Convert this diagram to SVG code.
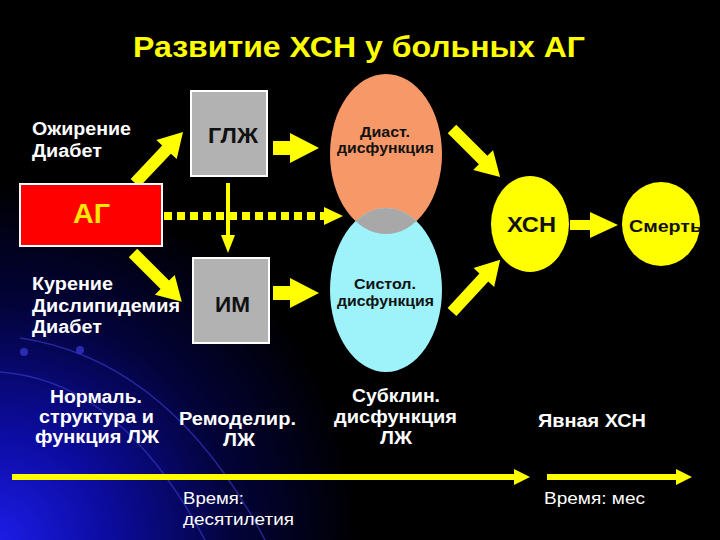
<svg xmlns="http://www.w3.org/2000/svg" width="720" height="540" viewBox="0 0 720 540">
<defs>
<radialGradient id="bg" gradientUnits="userSpaceOnUse" cx="0" cy="540" r="360">
<stop offset="0" stop-color="#1c1ce6"/>
<stop offset="0.3" stop-color="#0c0ca0"/>
<stop offset="0.65" stop-color="#03033a"/>
<stop offset="1" stop-color="#000000"/>
</radialGradient>
<clipPath id="cyanClip"><ellipse cx="386" cy="290" rx="56" ry="82"/></clipPath>
<style>
.t{font-family:"Liberation Sans",Arial,sans-serif;font-weight:bold}
.w{fill:#FFFFFF}
.k{fill:#111111}
.y{fill:#FFFF00}
.box{fill:#B2B2B2;stroke:#FFFFFF;stroke-width:2}
.ya{fill:#FFFF00}
</style>
</defs>
<rect width="720" height="540" fill="#000000"/>
<rect width="720" height="540" fill="url(#bg)"/>
<g fill="none" stroke="#3c3cd0" stroke-width="1.5" opacity="0.6">
<path d="M20,338 Q170,360 265,540"/>
<path d="M0,372 Q120,380 205,540"/>
</g>
<circle cx="24" cy="352" r="4" fill="#3a3ad8" opacity="0.7"/>
<circle cx="80" cy="350" r="4" fill="#3a3ad8" opacity="0.7"/>

<text class="t y" x="133" y="57" font-size="29" textLength="452" lengthAdjust="spacingAndGlyphs">Развитие ХСН у больных АГ</text>

<g id="connectors">
<!-- AG -> GLZh -->
<path class="ya" transform="translate(135,183) rotate(-46.7)" d="M0,-6 H46 V-14 L70,0 L46,14 V6 H0 Z"/>
<!-- AG -> IM -->
<path class="ya" transform="translate(133,253) rotate(45)" d="M0,-6 H45 V-14 L69,0 L45,14 V6 H0 Z"/>
<!-- GLZh -> Diast -->
<path class="ya" d="M273,141 H290 V133 L319,148 L290,163 V155 H273 Z"/>
<!-- IM -> Systol -->
<path class="ya" d="M273,286 H290 V278 L319,293 L290,308 V300 H273 Z"/>
<!-- Diast -> HSN -->
<path class="ya" transform="translate(452,129) rotate(45)" d="M0,-6 H44 V-14 L68,0 L44,14 V6 H0 Z"/>
<!-- Systol -> HSN -->
<path class="ya" transform="translate(452,312) rotate(-47.3)" d="M0,-6 H47 V-14 L71,0 L47,14 V6 H0 Z"/>
<!-- HSN -> Death -->
<path class="ya" d="M570,220 H590 V212 L618,225 L590,238 V230 H570 Z"/>
<!-- GLZh -> IM thin -->
<line x1="228" y1="183" x2="228" y2="238" stroke="#FFFF00" stroke-width="4"/>
<polygon class="ya" points="221,235 235,235 228,253"/>
<!-- AG dashed -->
<line x1="164" y1="216" x2="324" y2="216" stroke="#FFFF00" stroke-width="8" stroke-dasharray="8 5"/>
<polygon class="ya" points="324,207 324,225 343,216"/>
<!-- timeline -->
<line x1="12" y1="477" x2="517" y2="477" stroke="#FFFF00" stroke-width="6"/>
<polygon class="ya" points="514,469 530,477 514,485"/>
<line x1="547" y1="477" x2="679" y2="477" stroke="#FFFF00" stroke-width="6"/>
<polygon class="ya" points="676,469 692,477 676,485"/>
</g>

<g id="risk1">
<text class="t w" x="32" y="135" font-size="18" textLength="99" lengthAdjust="spacingAndGlyphs">Ожирение</text>
<text class="t w" x="32" y="157" font-size="18" textLength="70" lengthAdjust="spacingAndGlyphs">Диабет</text>
</g>
<g id="risk2">
<text class="t w" x="32" y="290" font-size="18" textLength="81" lengthAdjust="spacingAndGlyphs">Курение</text>
<text class="t w" x="32" y="312" font-size="18" textLength="148" lengthAdjust="spacingAndGlyphs">Дислипидемия</text>
<text class="t w" x="32" y="333" font-size="18" textLength="70" lengthAdjust="spacingAndGlyphs">Диабет</text>
</g>

<g id="ag">
<rect x="20" y="184" width="142" height="62" fill="#FF0000" stroke="#FFFFFF" stroke-width="2"/>
<text class="t" fill="#FFE600" x="73" y="223" font-size="27" textLength="37" lengthAdjust="spacingAndGlyphs">АГ</text>
</g>
<g id="glzh">
<rect class="box" x="191" y="91" width="76" height="85"/>
<text class="t k" x="208" y="143" font-size="22" textLength="50" lengthAdjust="spacingAndGlyphs">ГЛЖ</text>
</g>
<g id="im">
<rect class="box" x="193" y="258" width="76" height="85"/>
<text class="t k" x="215" y="312" font-size="22" textLength="35" lengthAdjust="spacingAndGlyphs">ИМ</text>
</g>

<g id="dysfunction">
<ellipse cx="386" cy="154" rx="56" ry="80" fill="#F79868"/>
<ellipse cx="386" cy="290" rx="56" ry="82" fill="#9EF2FA"/>
<ellipse cx="386" cy="154" rx="56" ry="80" fill="#A8A8A8" clip-path="url(#cyanClip)"/>
<text class="t k" x="360" y="137" font-size="15" textLength="50" lengthAdjust="spacingAndGlyphs">Диаст.</text>
<text class="t k" x="337" y="153" font-size="15" textLength="97" lengthAdjust="spacingAndGlyphs">дисфункция</text>
<text class="t k" x="354" y="289" font-size="15" textLength="62" lengthAdjust="spacingAndGlyphs">Систол.</text>
<text class="t k" x="337" y="306" font-size="15" textLength="97" lengthAdjust="spacingAndGlyphs">дисфункция</text>
</g>

<g id="hsn">
<ellipse cx="530" cy="224" rx="39" ry="48" fill="#FFFF00"/>
<text class="t k" x="507" y="232" font-size="22" textLength="49" lengthAdjust="spacingAndGlyphs">ХСН</text>
</g>
<g id="death">
<ellipse cx="661" cy="224" rx="39" ry="42" fill="#FFFF00"/>
<text class="t k" x="629" y="232" font-size="17" textLength="73" lengthAdjust="spacingAndGlyphs">Смерть</text>
</g>

<g id="stage1">
<text class="t w" x="50" y="403" font-size="18" textLength="92" lengthAdjust="spacingAndGlyphs">Нормаль.</text>
<text class="t w" x="39" y="423" font-size="18" textLength="115" lengthAdjust="spacingAndGlyphs">структура и</text>
<text class="t w" x="35" y="443" font-size="18" textLength="124" lengthAdjust="spacingAndGlyphs">функция ЛЖ</text>
</g>
<g id="stage2">
<text class="t w" x="179" y="425" font-size="18" textLength="117" lengthAdjust="spacingAndGlyphs">Ремоделир.</text>
<text class="t w" x="223" y="446" font-size="18" textLength="32" lengthAdjust="spacingAndGlyphs">ЛЖ</text>
</g>
<g id="stage3">
<text class="t w" x="352" y="402" font-size="18" textLength="88" lengthAdjust="spacingAndGlyphs">Субклин.</text>
<text class="t w" x="334" y="423" font-size="18" textLength="123" lengthAdjust="spacingAndGlyphs">дисфункция</text>
<text class="t w" x="380" y="444" font-size="18" textLength="32" lengthAdjust="spacingAndGlyphs">ЛЖ</text>
</g>
<g id="stage4">
<text class="t w" x="538" y="427" font-size="18" textLength="108" lengthAdjust="spacingAndGlyphs">Явная ХСН</text>
</g>
<g id="time1">
<text class="t w" x="183" y="504" font-size="17" font-weight="normal" textLength="61" lengthAdjust="spacingAndGlyphs" style="font-weight:normal">Время:</text>
<text class="t w" x="183" y="525" font-size="17" textLength="111" lengthAdjust="spacingAndGlyphs" style="font-weight:normal">десятилетия</text>
</g>
<g id="time2">
<text class="t w" x="544" y="504" font-size="17" textLength="101" lengthAdjust="spacingAndGlyphs" style="font-weight:normal">Время: мес</text>
</g>
</svg>
